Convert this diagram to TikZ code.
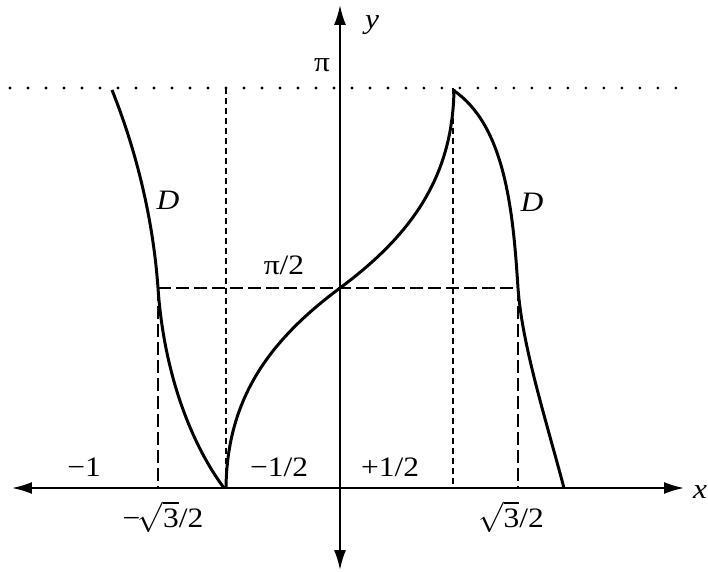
\documentclass[tikz,border=0pt]{standalone}
\usepackage{fontspec}
\setmainfont{Liberation Serif}[FakeStretch=1.12]
\usetikzlibrary{positioning,arrows.meta}

\begin{document}
\begin{tikzpicture}[
    x=0.02cm,
    y=-0.02cm,
    axis/.style={
        line width=1.1pt,
        {Latex[length=4mm,width=2.4mm]}-{Latex[length=4mm,width=2.4mm]}
    },
    curve/.style={line width=1.7pt},
    dotline/.style={
        line width=1.8pt,
        line cap=round,
        dash pattern=on 0pt off 0.36cm
    },
    fineline/.style={line width=1.4pt, dash pattern=on 0.12cm off 0.08cm},
    dashline/.style={line width=1.4pt, dash pattern=on 0.26cm off 0.1cm},
    lbl/.style={font=\fontsize{16}{18}\selectfont, inner sep=1pt}
]
\useasboundingbox (0,0) rectangle (708,572);

% axes
\coordinate (xl) at (12,488);
\coordinate (xr) at (684,488);
\coordinate (yt) at (340,5);
\coordinate (yb) at (340,570);
\draw[axis] (xl) -- (xr);
\draw[axis] (yb) -- (yt);

% guide lines
\coordinate (pil) at (10,88);
\coordinate (pir) at (684,88);
\coordinate (hl) at (158,288);
\coordinate (hr) at (518,288);
\coordinate (hlb) at (158,488);
\coordinate (hrb) at (518,488);
\coordinate (ql) at (226,88);
\coordinate (qlb) at (226,488);
\coordinate (qr) at (453,88);
\coordinate (qrb) at (453,488);

\draw[dotline] (pil) -- (pir);
\draw[fineline] (ql) -- (qlb);
\draw[fineline] (qr) -- (qrb);
\draw[dashline] (hl) -- (hr);
\draw[dashline] (hl) -- (hlb);
\draw[dashline] (hr) -- (hrb);

% curves
\coordinate (c0) at (340,288);
\coordinate (dlt) at (112,90);
\coordinate (dlb) at (224,488);
\coordinate (drt) at (453,90);
\coordinate (drb) at (564,488);

\draw[curve] (qlb) .. controls (227,398) and (270,340) .. (c0)
    .. controls (410,236) and (453,178) .. (454,89);
\draw[curve] (dlt) .. controls (136,150) and (153,218) .. (hl)
    .. controls (164,375) and (192,445) .. (dlb);
\draw[curve] (drt) .. controls (505,125) and (513,210) .. (hr)
    .. controls (522,345) and (546,420) .. (drb);

% labels
\node[lbl] (lpi) at (322,65) {π};
\node[lbl] (ly) at (372,25) {\textit{y}};
\node[lbl] (lx) at (700,492) {\textit{x}};
\node[lbl] (lpih) at (284,265) {π/2};
\node[lbl] (ldl) at (168,200) {\textit{D}};
\node[lbl] (ldr) at (532,202) {\textit{D}};
\node[lbl] (lm1) at (84,467) {−1};
\node[lbl] (lmh) at (279,467) {−1/2};
\node[lbl] (lph) at (390,467) {+1/2};
\node[lbl] (lms) at (163,517) {−\kern-1.5pt$\sqrt{\mbox{3}}$/2};
\node[lbl] (lps) at (511,517) {$\sqrt{\mbox{3}}$/2};

\end{tikzpicture}
\end{document}
